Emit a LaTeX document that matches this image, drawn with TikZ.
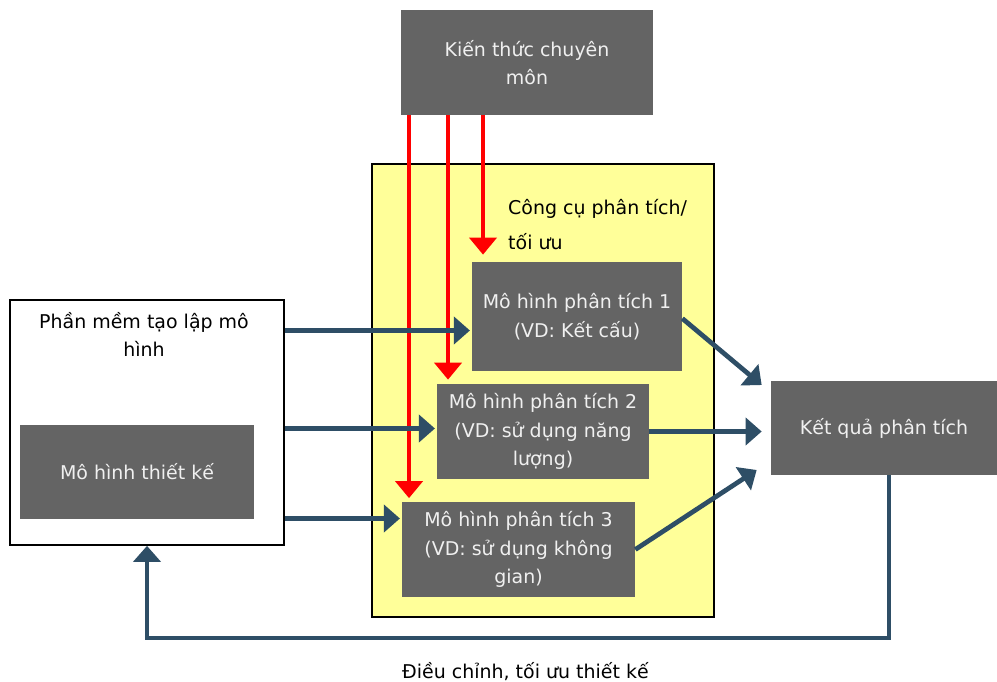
\documentclass[tikz,border=0pt]{standalone}
\usepackage{fontspec}
\setmainfont{DejaVu Sans}
\usetikzlibrary{arrows.meta,positioning}
\definecolor{boxgray}{RGB}{100,100,100}
\definecolor{toolyellow}{RGB}{255,255,153}
\definecolor{flowblue}{RGB}{46,78,102}
\definecolor{knowred}{RGB}{255,0,0}

\begin{document}
\begin{tikzpicture}[x=0.02cm,y=-0.02cm,
      font=\fontsize{10.8}{16.3}\selectfont,
      g/.style={fill=boxgray,text=white!94!black,align=center,inner sep=2pt},
      ra/.style={knowred,line width=2.3pt,
        -{Triangle[width=0.54cm,length=0.34cm]}},
      ba/.style={flowblue,line width=2.7pt,
        -{Triangle[width=0.54cm,length=0.32cm]}}]
      \useasboundingbox (0,0) rectangle (997,682);
      \node[draw=black,line width=1pt,fill=toolyellow,minimum width=6.84cm,
        minimum height=9.06cm] (tool) at (543,390.5) {};
      \node[align=left,anchor=north west,font=\fontsize{10.8}{19.8}\selectfont]
        (toollbl) at (502,193) {Công cụ phân tích/\\tối ưu};
      \node[draw=black,line width=1pt,fill=white,minimum width=5.48cm,
        minimum height=4.9cm] (software) at (147,422.5) {};
      \node[align=center,anchor=north] (softlbl) at (144,306)
        {Phần mềm tạo lập mô\\hình};
      \node[g,minimum width=4.68cm,minimum height=1.88cm] (design)
        at (137,472) {Mô hình thiết kế};
      \node[g,minimum width=5.04cm,minimum height=2.1cm] (knowledge)
        at (527,62.5) {Kiến thức chuyên\\môn};
      \node[g,minimum width=4.2cm,minimum height=2.18cm] (model1)
        at (577,316.5) {Mô hình phân tích 1\\(VD: Kết cấu)};
      \node[g,minimum width=4.24cm,minimum height=1.92cm] (model2)
        at (543,431.5) {Mô hình phân tích 2\\(VD: sử dụng năng\\lượng)};
      \node[g,minimum width=4.66cm,minimum height=1.9cm] (model3)
        at (518.5,549.5) {Mô hình phân tích 3\\(VD: sử dụng không\\gian)};
      \node[g,minimum width=4.52cm,minimum height=1.88cm] (result)
        at (884,428) {Kết quả phân tích};
      % kien thuc -> mo hinh
      \draw[ra] ([xshift=-2.36cm]knowledge.south)
        -- ([xshift=-2.36cm,yshift=2pt]knowledge.south |- model3.north);
      \draw[ra] ([xshift=-1.58cm]knowledge.south)
        -- ([xshift=-1.58cm,yshift=2pt]knowledge.south |- model2.north);
      \draw[ra] ([xshift=-0.88cm]knowledge.south)
        -- ([xshift=-0.88cm,yshift=4pt]knowledge.south |- model1.north);
      % phan mem -> mo hinh
      \coordinate (in1) at ([yshift=-0.28cm]model1.west);
      \coordinate (in2) at ([yshift=0.06cm]model2.west);
      \coordinate (in3) at ([yshift=0.62cm]model3.west);
      \draw[ba] (software.east |- in1) -- ([xshift=-1pt]in1);
      \draw[ba] (software.east |- in2) -- ([xshift=-1pt]in2);
      \draw[ba] (software.east |- in3) -- ([xshift=-1pt]in3);
      % mo hinh -> ket qua
      \draw[ba] ([yshift=-0.04cm]model1.east)
        -- ([xshift=-0.18cm,yshift=0.86cm]result.west);
      \draw[ba] (model2.east) -- ([xshift=-0.18cm]result.west |- model2.east);
      \draw[ba] (model3.east) -- ([xshift=-0.28cm,yshift=-0.84cm]result.west);
      % vong lap dieu chinh
      \coordinate (fbturn) at (889,638);
      \draw[ba] (result.south -| fbturn) -- (fbturn) -| (software.south)
        node[pos=0.245,below=0.32cm,text=black] (fblbl)
          {Điều chỉnh, tối ưu thiết kế};
    \end{tikzpicture}
\end{document}
